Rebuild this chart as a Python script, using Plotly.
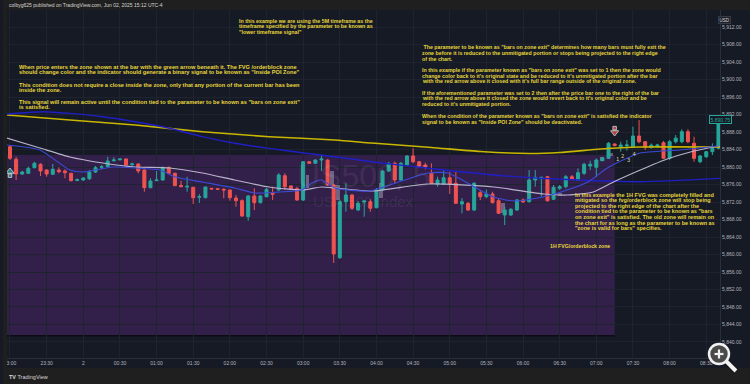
import plotly.graph_objects as go
import pandas as pd

# ---------------- data ----------------
bar_open = [5884.64, 5881.76, 5878.40, 5878.56, 5879.84, 5880.62, 5879.31, 5878.33, 5879.31, 5879.09,
            5878.56, 5876.90, 5877.03, 5877.33, 5878.86, 5879.93, 5880.07, 5881.44, 5881.67, 5881.83,
            5880.53, 5880.69, 5879.31, 5875.27, 5876.87, 5877.03, 5879.93, 5878.56, 5875.82, 5875.43,
            5875.36, 5873.08, 5872.98, 5875.13, 5875.04, 5874.90, 5874.74, 5872.91, 5872.30, 5868.64,
            5873.37, 5871.84, 5873.21, 5874.00, 5874.74, 5878.01, 5875.66, 5875.04, 5872.46, 5881.21,
            5880.85, 5881.60, 5881.60, 5875.89, 5859.27, 5872.07, 5873.60, 5870.17, 5872.00, 5872.07,
            5870.70, 5874.74, 5879.09, 5880.85, 5877.03, 5880.46, 5882.51, 5881.21, 5880.46, 5878.56,
            5876.11, 5876.11, 5877.55, 5876.27, 5871.54, 5871.70, 5870.17, 5874.13, 5873.21, 5873.83,
            5872.30, 5869.03, 5869.03, 5870.17, 5872.46, 5872.07, 5877.03, 5877.33, 5877.78, 5872.62,
            5875.13, 5875.50, 5877.78, 5877.03, 5878.56, 5880.23, 5879.93, 5881.44, 5881.99, 5885.26,
            5884.64, 5884.87, 5884.64, 5887.09, 5885.78, 5884.50, 5884.80, 5885.55, 5881.99, 5885.78,
            5885.78, 5888.07, 5885.42, 5881.21, 5882.35, 5883.50, 5884.27]
bar_high = [5885.03, 5882.35, 5879.09, 5880.07, 5881.21, 5880.85, 5879.47, 5880.69, 5879.93, 5879.47,
            5878.70, 5877.40, 5877.71, 5879.31, 5880.23, 5880.46, 5882.35, 5882.22, 5882.06, 5881.99,
            5880.98, 5880.85, 5879.47, 5877.42, 5879.09, 5880.07, 5880.07, 5878.70, 5876.87, 5877.78,
            5875.50, 5873.83, 5875.50, 5875.20, 5875.10, 5875.13, 5874.90, 5873.60, 5872.62, 5873.60,
            5875.13, 5873.60, 5875.20, 5875.50, 5878.63, 5878.56, 5875.89, 5875.50, 5881.37, 5881.37,
            5881.76, 5882.74, 5881.76, 5876.05, 5872.46, 5876.27, 5873.83, 5872.23, 5872.30, 5872.62,
            5875.20, 5879.31, 5881.14, 5881.21, 5881.14, 5882.74, 5884.27, 5881.37, 5880.98, 5880.85,
            5877.78, 5879.31, 5878.93, 5878.93, 5872.91, 5872.00, 5876.57, 5874.74, 5874.90, 5874.35,
            5872.85, 5870.93, 5870.63, 5872.69, 5872.85, 5879.31, 5879.31, 5877.78, 5877.94, 5875.89,
            5875.89, 5878.17, 5878.17, 5879.70, 5880.98, 5881.44, 5881.99, 5882.29, 5885.71, 5885.42,
            5885.78, 5886.17, 5889.21, 5890.74, 5885.94, 5885.40, 5885.30, 5885.94, 5886.17, 5887.31,
            5888.62, 5888.62, 5886.93, 5882.74, 5883.66, 5885.42, 5891.13]
bar_low = [5881.60, 5877.03, 5878.17, 5878.40, 5879.70, 5877.94, 5877.78, 5878.17, 5878.56, 5877.42,
           5876.73, 5876.80, 5876.80, 5877.03, 5878.63, 5879.47, 5879.93, 5881.21, 5881.44, 5880.30,
           5880.23, 5878.56, 5874.35, 5875.13, 5876.80, 5876.87, 5878.40, 5875.66, 5875.36, 5874.35,
           5871.54, 5871.77, 5872.85, 5874.90, 5874.80, 5872.85, 5872.30, 5870.93, 5868.64, 5867.73,
           5870.17, 5871.70, 5873.08, 5872.46, 5874.50, 5874.74, 5874.74, 5872.30, 5872.23, 5880.69,
           5880.69, 5879.09, 5875.73, 5858.06, 5858.97, 5869.78, 5870.17, 5869.94, 5868.64, 5869.78,
           5870.56, 5874.50, 5878.86, 5876.27, 5876.80, 5880.23, 5880.85, 5880.00, 5879.47, 5876.11,
           5875.50, 5875.89, 5873.83, 5871.54, 5869.42, 5869.94, 5869.94, 5872.46, 5872.85, 5871.70,
           5869.26, 5866.74, 5868.80, 5869.94, 5871.84, 5871.84, 5875.50, 5873.21, 5872.07, 5872.46,
           5874.74, 5875.13, 5877.03, 5876.87, 5878.17, 5879.31, 5877.65, 5881.37, 5881.83, 5884.80,
           5883.50, 5883.73, 5884.50, 5885.42, 5883.89, 5884.20, 5884.40, 5881.83, 5881.60, 5885.40,
           5885.42, 5885.42, 5881.21, 5880.85, 5882.06, 5882.74, 5884.05]
bar_close = [5881.99, 5878.40, 5878.86, 5879.70, 5880.85, 5879.09, 5878.40, 5879.47, 5878.93, 5878.70,
             5876.87, 5877.10, 5877.49, 5878.86, 5879.84, 5880.07, 5881.37, 5881.60, 5881.83, 5880.46,
             5880.69, 5879.09, 5875.27, 5876.80, 5877.03, 5879.93, 5878.56, 5875.73, 5875.50, 5875.59,
             5872.98, 5873.21, 5875.43, 5874.97, 5874.90, 5874.74, 5872.98, 5872.30, 5868.80, 5873.37,
             5871.84, 5873.37, 5874.90, 5873.80, 5878.17, 5875.50, 5874.90, 5872.46, 5881.21, 5880.85,
             5881.60, 5881.83, 5875.89, 5860.11, 5872.07, 5873.60, 5870.56, 5871.70, 5872.23, 5870.56,
             5874.74, 5879.09, 5880.85, 5877.03, 5880.85, 5882.51, 5881.21, 5880.23, 5880.07, 5876.27,
             5877.03, 5877.55, 5876.11, 5871.70, 5872.07, 5870.17, 5876.27, 5873.21, 5873.83, 5871.84,
             5869.42, 5870.17, 5870.33, 5872.46, 5872.00, 5877.03, 5877.65, 5877.65, 5872.30, 5875.36,
             5875.50, 5877.78, 5877.19, 5878.70, 5880.62, 5880.62, 5881.60, 5882.06, 5885.42, 5884.87,
             5885.03, 5885.03, 5887.09, 5885.78, 5884.50, 5885.00, 5885.00, 5881.99, 5885.78, 5886.60,
             5888.07, 5885.78, 5881.99, 5882.51, 5883.50, 5884.27, 5890.75]

first_bar = "2025-06-01 23:00"
bar_minutes = 5

# moving-average knots (bar index, price)
yellow_idx = [-0.5, 9.8, 20.5, 31.5, 42.4, 53.2, 59.2, 69, 77, 85, 90, 96.7, 103, 116.5]
yellow_val = [5891.89, 5890.74, 5889.60, 5888.07, 5886.93, 5886.17, 5885.49, 5884.46, 5883.54,
              5883.09, 5883.31, 5884.11, 5884.57, 5884.57]
navy_idx = [-0.5, 5.4, 9.8, 15.2, 20.5, 26.1, 31.5, 36.8, 42.4, 47.8, 53.2, 59.2, 68.5, 79.2, 90.2, 103.2, 116.5]
navy_val = [5892.11, 5892.64, 5892.27, 5891.50, 5890.35, 5888.85, 5886.93, 5885.42, 5884.27, 5883.27,
            5882.35, 5881.21, 5879.70, 5878.17, 5877.19, 5876.64, 5877.42]
white_idx = [-0.5, 4.9, 9.8, 15.2, 20.5, 26.1, 31.5, 36.8, 42.4, 47.8, 51, 53.2, 59.2, 68.5, 79.2,
             87.4, 91.3, 95.5, 98.8, 103.2, 107.6, 111.4, 116]
white_val = [5886.63, 5884.34, 5882.29, 5880.91, 5880.00, 5879.77, 5878.63, 5877.03, 5875.43, 5874.74,
             5875.43, 5875.20, 5874.51, 5876.11, 5875.43, 5873.83, 5873.60, 5874.29, 5876.57, 5879.31,
             5881.83, 5883.43, 5884.80]
blue_idx = [-0.5, 4.9, 9.8, 11.9, 16.8, 20.5, 24.5, 27.1, 31.5, 36.8, 40.1, 44, 47.8, 49.4, 51, 53.2,
            58.7, 64.6, 68.5, 71.7, 75.5, 79.2, 82.5, 86.4, 90.2, 94.6, 97.8, 101.1, 103.2, 109.7, 116]
blue_val = [5885.03, 5883.89, 5879.31, 5878.86, 5880.00, 5879.77, 5879.31, 5877.71, 5876.57, 5875.20,
            5874.06, 5874.29, 5874.74, 5876.34, 5877.03, 5875.20, 5874.51, 5877.03, 5878.63, 5878.63,
            5875.89, 5873.14, 5872.23, 5872.91, 5874.29, 5876.57, 5879.77, 5882.06, 5883.20, 5883.89,
            5884.80]

# lower-timeframe overlay boxes (bar index, low, high)
box_idx = [48.7, 52.7, 53.7, 60.7, 80.7, 90.0, 96.9, 98.4]
box_low = [5875.20, 5875.89, 5872.46, 5872.91, 5869.49, 5873.37, 5881.37, 5882.51]
box_high = [5878.17, 5879.09, 5875.89, 5876.34, 5871.77, 5874.06, 5882.29, 5883.20]

# 1H FVG / orderblock zone
zone_low = 5841.4
zone_high = 5882.74
zone_end_idx = 99

# signal markers
entry_idx, entry_price = 0, 5878.97
exit_idx, exit_price = 99, 5887.89
count_labels = ["1", "2", "3", "4"]
count_idx = [99.5, 100.3, 101.3, 102.2]
count_price = [5881.60, 5882.29, 5881.37, 5882.74]

x_tick_labels = ["23:00", "23:30", "2", "00:30", "01:00", "01:30", "02:00", "02:30", "03:00", "03:30",
                 "04:00", "04:30", "05:00", "05:30", "06:00", "06:30", "07:00", "07:30", "08:00", "08:30"]
y_ticks = list(range(5840, 5913, 4))
last_price = 5890.75

# ---------------- helpers ----------------
t0 = pd.Timestamp(first_bar)
def bt(i):
    return t0 + pd.Timedelta(minutes=bar_minutes * i)

times = pd.date_range(first_bar, periods=len(bar_open), freq="5min")
x_tick_vals = pd.date_range(first_bar, periods=len(x_tick_labels), freq="30min")

W, H = 750, 384
ML, MR, MT, MB = 4, 30, 10, 26
PW, PH = W - ML - MR, H - MT - MB
def px(x):
    return (x - ML) / PW
def py(y):
    return (H - MB - y) / PH

BG = "#161a25"
FRAME = "#1f1f1f"
GRID = "#1f2330"
TEAL = "#26a69a"
RED = "#ef5350"
TXT = "#e6d63c"
FONT = "Liberation Sans, Arial, sans-serif"

fig = go.Figure()

fig.add_trace(go.Candlestick(
    x=times, open=bar_open, high=bar_high, low=bar_low, close=bar_close,
    increasing=dict(line=dict(color=TEAL, width=1), fillcolor=TEAL),
    decreasing=dict(line=dict(color=RED, width=1), fillcolor=RED),
    whiskerwidth=0, showlegend=False, hoverinfo="skip"))

fig.add_trace(go.Bar(
    x=[bt(i) for i in box_idx], y=[h - l for h, l in zip(box_high, box_low)], base=box_low,
    width=bar_minutes * 60 * 1000 * 0.6, marker=dict(color="rgba(205,200,215,0.40)", line_width=0),
    showlegend=False, hoverinfo="skip"))

def ma(idx, val, color, width, dash="solid"):
    fig.add_trace(go.Scatter(x=[bt(i) for i in idx], y=val, mode="lines",
                             line=dict(color=color, width=width, shape="spline", smoothing=0.6, dash=dash),
                             showlegend=False, hoverinfo="skip"))

ma(yellow_idx, yellow_val, "#c8b600", 1.6)
ma(navy_idx, navy_val, "#1f1fc4", 1.4)
ma(white_idx, white_val, "#b9b2cc", 1.2)
ma(blue_idx, blue_val, "#3b4ad6", 1.1)

# arrows
fig.add_trace(go.Scatter(x=[bt(entry_idx), bt(entry_idx)], y=[entry_price, entry_price - 0.95],
                         mode="markers", marker=dict(symbol=["triangle-up", "square"], size=[7, 3.5], color=TEAL),
                         showlegend=False, hoverinfo="skip"))
fig.add_trace(go.Scatter(x=[bt(exit_idx), bt(exit_idx)], y=[exit_price, exit_price + 1.0],
                         mode="markers", marker=dict(symbol=["triangle-down", "square"], size=[7, 3.5], color=RED),
                         showlegend=False, hoverinfo="skip"))
fig.add_trace(go.Scatter(x=[bt(i) for i in count_idx], y=count_price, mode="text", text=count_labels,
                         textfont=dict(size=5, color="#e8e0a0", family=FONT), showlegend=False, hoverinfo="skip"))

shapes = []
# zone
shapes.append(dict(type="rect", xref="x", yref="y", x0=bt(-5), x1=bt(zone_end_idx), y0=zone_low, y1=zone_high,
                   fillcolor="#33204a", line_width=0, layer="below"))
shapes.append(dict(type="line", xref="x", yref="y", x0=bt(-5), x1=bt(zone_end_idx), y0=zone_low, y1=zone_low,
                   line=dict(color="#0c0c14", width=1.5), layer="below"))
# frame
shapes.append(dict(type="rect", xref="paper", yref="paper", x0=px(0), x1=px(W), y0=py(0), y1=py(10),
                   fillcolor=FRAME, line_width=0))
shapes.append(dict(type="rect", xref="paper", yref="paper", x0=px(0), x1=px(4), y0=py(0), y1=py(H),
                   fillcolor=FRAME, line_width=0))
shapes.append(dict(type="rect", xref="paper", yref="paper", x0=px(0), x1=px(W), y0=py(368), y1=py(H),
                   fillcolor=FRAME, line_width=0))
# zoom icon
shapes.append(dict(type="line", xref="paper", yref="paper", x0=px(726), y0=py(361), x1=px(736), y1=py(371),
                   line=dict(color="#111111", width=6)))
shapes.append(dict(type="line", xref="paper", yref="paper", x0=px(726), y0=py(361), x1=px(736), y1=py(371),
                   line=dict(color="#f2f2f2", width=4)))
shapes.append(dict(type="circle", xref="paper", yref="paper", x0=px(709), x1=px(729), y0=py(364), y1=py(344),
                   fillcolor="#4a4a4a", line=dict(color="#f2f2f2", width=2.5)))
shapes.append(dict(type="line", xref="paper", yref="paper", x0=px(714.5), x1=px(723.5), y0=py(354), y1=py(354),
                   line=dict(color="#f2f2f2", width=2.2)))
shapes.append(dict(type="line", xref="paper", yref="paper", x0=px(719), x1=px(719), y0=py(349.5), y1=py(358.5),
                   line=dict(color="#f2f2f2", width=2.2)))

annotations = []
def txt(x, y, s, size=5.5, color=TXT, anchor="left", bold=True):
    annotations.append(dict(x=px(x), y=py(y), xref="paper", yref="paper", text=(f"<b>{s}</b>" if bold else s),
                            showarrow=False, xanchor=anchor, yanchor="middle",
                            font=dict(size=size, color=color, family=FONT)))

def block(x, y0, lines, size=5.5, step=5.6):
    for k, s in enumerate(lines):
        txt(x, y0 + k * step, s, size=size)

block(235, 20.6, ["In this example we are using the 5M timeframe as the",
                  "timeframe specified by the parameter to be known as",
                  "\"lower timeframe signal\""], size=5.3)
block(14, 66.6, ["When price enters the zone shown at the bar with the green arrow beneath it. The FVG /orderblock zone",
                 "should change color and the indicator should generate a binary signal to be known as \"Inside POI Zone\""],
      size=5.65)
block(14, 84.6, ["This condition does not require a close inside the zone, only that any portion of the current bar has been",
                 "inside the zone."], size=5.65)
block(14, 101.5, ["This signal will remain active until the condition tied to the parameter to be known as \"bars on zone exit\"",
                  "is satisfied."], size=5.65)
block(419, 47.3, [" The parameter to be known as \"bars on zone exit\" determines how many bars must fully exit the",
                  "zone before it is reduced to the unmitigated portion or stops being projected to the right edge",
                  "of the chart."], size=5.3)
block(419, 70.0, ["In this example if the parameter known as \"bars on zone exit\" was set to 1 then the zone would",
                  "change color back to it's original state and be reduced to it's unmitigated portion after the bar",
                  "with the red arrow above it closed with it's full bar range outside of the original zone."], size=5.3)
block(419, 92.7, ["If the aforementioned parameter was set to 2 then after the price bar one to the right of the bar",
                  "with the red arrow above it closed the zone would revert back to it's original color and be",
                  "reduced to it's unmitigated portion."], size=5.3)
block(419, 116.0, ["When the condition of the parameter known as \"bars on zone exit\" is satisfied the indicator",
                   "signal to be known as \"Inside POI Zone\" should be deactivated."], size=5.3)
block(572, 194.6, ["In this example the 1H FVG was completely filled and",
                   "mitigated so the fvg/orderblock zone will stop being",
                   "projected to the right edge of the chart after the",
                   "condition tied to the parameter to be known as \"bars",
                   "on zone exit\" is satisfied. The old zone will remain on",
                   "the chart for as long as the parameter to be known as",
                   "\"zone is valid for bars\" specifies."], size=5.5)
txt(612, 246, "1H FVG/orderblock zone", anchor="right", size=5.2)

# watermark
txt(362, 176, "US500, 5", size=32, color="rgba(255,255,255,0.075)", anchor="center", bold=False)
txt(362, 201, "USA 500 Index", size=15, color="rgba(255,255,255,0.075)", anchor="center", bold=False)

# header / footer
txt(4, 5, "colbyg625 published on TradingView.com, Jun 02, 2025 15:12 UTC-4", size=5, color="#d6d6d6", bold=False)
txt(4, 377, "<b>TV</b> TradingView", size=5.5, color="#d6d6d6", bold=False)

# axis boxes
annotations.append(dict(x=px(731.5), y=py(16.5), xref="paper", yref="paper", text="USD", showarrow=False,
                        font=dict(size=4.5, color="#d1d4dc", family=FONT), bgcolor="#1e222d",
                        bordercolor="#363a45", borderwidth=1, borderpad=0.5))
annotations.append(dict(x=px(732), y=last_price, xref="paper", yref="y", text=f"{last_price:,.2f}", showarrow=False,
                        font=dict(size=5, color=TEAL, family=FONT), bgcolor=BG,
                        bordercolor=TEAL, borderwidth=1, borderpad=0.5))

fig.update_layout(
    width=W, height=H, autosize=False,
    margin=dict(l=ML, r=MR, t=MT, b=MB, pad=0),
    paper_bgcolor=BG, plot_bgcolor=BG,
    shapes=shapes, annotations=annotations,
    showlegend=False, bargap=0,
    xaxis=dict(type="date", range=[bt(-0.49), bt(116.25)], rangeslider=dict(visible=False),
               tickvals=x_tick_vals, ticktext=x_tick_labels, tickfont=dict(size=5, color="#b2b5be", family=FONT),
               showgrid=True, gridcolor=GRID, gridwidth=1, zeroline=False,
               showline=True, linecolor="#2a2e39", ticks="", fixedrange=True),
    yaxis=dict(side="right", range=[5836.34, 5915.89], tickvals=y_ticks, tickformat=",.2f",
               tickfont=dict(size=5, color="#b2b5be", family=FONT),
               showgrid=True, gridcolor=GRID, gridwidth=1, zeroline=False,
               showline=True, linecolor="#2a2e39", ticks="", fixedrange=True),
)

fig.write_html("out.html", config={"displayModeBar": False},
               post_script="document.body.style.margin='0';document.body.style.overflow='hidden';")
